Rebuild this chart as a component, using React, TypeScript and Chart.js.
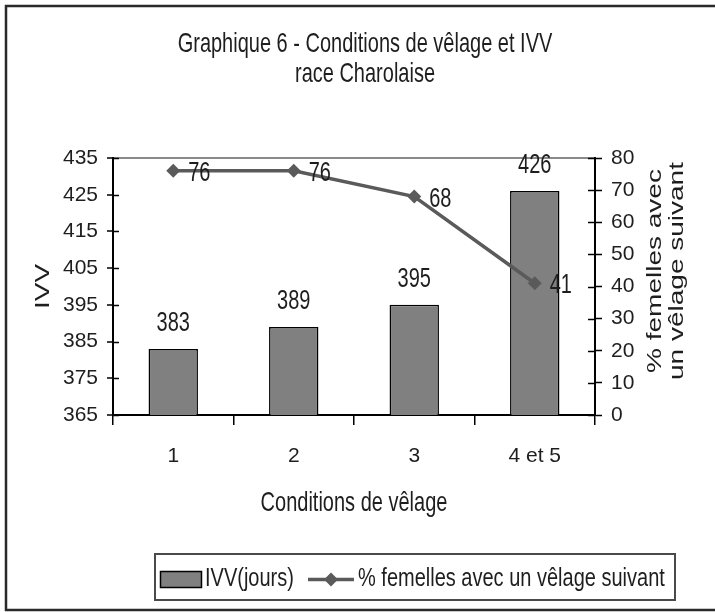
import React, { useEffect, useRef } from "react";
import { Chart, registerables } from "chart.js";

Chart.register(...registerables);

const categories = ["1", "2", "3", "4 et 5"];
const ivvValues = [383, 389, 395, 426];
const femellesValues = [76, 76, 68, 41];
const ivvLabel = "IVV(jours)";
const femellesLabel = "% femelles avec un vêlage suivant";
const titleLines = ["Graphique 6 - Conditions de vêlage et IVV", "race Charolaise"];
const xTitle = "Conditions de vêlage";
const yTitle = "IVV";
const y1TitleLines = ["% femelles avec", "un vêlage suivant"];

const FONT = '"Liberation Sans", Arial, Helvetica, sans-serif';
const TEXT = "#1e1e1e";
const BAR = "#808080";
const LINE = "#5a5a5a";
const STRETCH = 1.4;

function drawText(
  ctx: CanvasRenderingContext2D,
  text: string,
  x: number,
  y: number,
  size: number,
  align: CanvasTextAlign,
  baseline: CanvasTextBaseline,
  rotate = false,
  stretch = STRETCH
) {
  ctx.save();
  ctx.translate(x, y);
  ctx.scale(1, stretch);
  if (rotate) ctx.rotate(-Math.PI / 2);
  ctx.font = `${size}px ${FONT}`;
  ctx.fillStyle = TEXT;
  ctx.textAlign = align;
  ctx.textBaseline = baseline;
  ctx.fillText(text, 0, 0);
  ctx.restore();
}

const decorPlugin = {
  id: "decor",
  afterDraw(chart: any) {
    const ctx: CanvasRenderingContext2D = chart.ctx;
    const area = chart.chartArea;
    const y = chart.scales.y;
    const y1 = chart.scales.y1;

    // inner halves of the crossing tick marks
    ctx.save();
    ctx.strokeStyle = "#000";
    ctx.lineWidth = 1.5;
    y.ticks.forEach((_t: any, i: number) => {
      const py = Math.round(y.getPixelForTick(i)) + 0.5;
      ctx.beginPath();
      ctx.moveTo(area.left, py);
      ctx.lineTo(area.left + 6, py);
      ctx.stroke();
    });
    y1.ticks.forEach((_t: any, i: number) => {
      const py = Math.round(y1.getPixelForTick(i)) + 0.5;
      ctx.beginPath();
      ctx.moveTo(area.right - 7, py);
      ctx.lineTo(area.right, py);
      ctx.stroke();
    });
    ctx.restore();

    // data labels
    const barMeta = chart.getDatasetMeta(0);
    barMeta.data.forEach((el: any, i: number) => {
      drawText(ctx, String(chart.data.datasets[0].data[i]), el.x, el.y - 18, 20, "center", "alphabetic");
    });
    const lineMeta = chart.getDatasetMeta(1);
    lineMeta.data.forEach((el: any, i: number) => {
      drawText(ctx, String(chart.data.datasets[1].data[i]), el.x + 15, el.y + 10, 20, "left", "alphabetic");
    });

    // titles
    drawText(ctx, titleLines[0], 365, 52, 20, "center", "alphabetic");
    drawText(ctx, titleLines[1], 365, 82, 20, "center", "alphabetic");
    drawText(ctx, xTitle, (area.left + area.right) / 2, 511, 20, "center", "alphabetic");
    drawText(ctx, yTitle, 43, (area.top + area.bottom) / 2, 20, "center", "middle", true);
    drawText(ctx, y1TitleLines[0], 655, 271, 20, "center", "middle", true);
    drawText(ctx, y1TitleLines[1], 677, 271, 20, "center", "middle", true);

    // legend
    ctx.save();
    ctx.strokeStyle = "#4a4a4a";
    ctx.lineWidth = 2;
    ctx.strokeRect(155, 554, 520, 46);
    ctx.fillStyle = BAR;
    ctx.fillRect(160, 571, 42, 17);
    ctx.strokeStyle = "#000";
    ctx.lineWidth = 1.5;
    ctx.strokeRect(160.5, 571.5, 41, 16);
    ctx.strokeStyle = LINE;
    ctx.lineWidth = 3.5;
    ctx.beginPath();
    ctx.moveTo(308, 579.5);
    ctx.lineTo(354, 579.5);
    ctx.stroke();
    ctx.fillStyle = LINE;
    ctx.beginPath();
    ctx.moveTo(331, 572.5);
    ctx.lineTo(338, 579.5);
    ctx.lineTo(331, 586.5);
    ctx.lineTo(324, 579.5);
    ctx.closePath();
    ctx.fill();
    ctx.restore();
    drawText(ctx, chart.data.datasets[0].label, 205, 579, 20, "left", "middle", false, 1.3);
    drawText(ctx, chart.data.datasets[1].label, 358, 579, 20, "left", "middle", false, 1.3);

    // outer frame
    ctx.save();
    ctx.strokeStyle = "#2a2a2a";
    ctx.lineWidth = 2.5;
    ctx.strokeRect(6, 6, 740, 604);
    ctx.restore();
  },
};

export default function App() {
  const ref = useRef<HTMLCanvasElement>(null);

  useEffect(() => {
    if (!ref.current) return;
    const tickFont = { family: FONT, size: 21 };
    const chart = new Chart(ref.current, {
      type: "bar",
      data: {
        labels: categories,
        datasets: [
          {
            type: "bar",
            label: ivvLabel,
            data: ivvValues,
            backgroundColor: BAR,
            borderColor: "#000",
            borderWidth: 1.5,
            barPercentage: 0.41,
            categoryPercentage: 1,
            yAxisID: "y",
            order: 2,
          } as any,
          {
            type: "line",
            label: femellesLabel,
            data: femellesValues,
            borderColor: LINE,
            backgroundColor: LINE,
            borderWidth: 3.5,
            pointStyle: "rectRot",
            pointRadius: 7,
            pointBackgroundColor: LINE,
            pointBorderColor: LINE,
            pointBorderWidth: 0,
            tension: 0,
            yAxisID: "y1",
            order: 1,
          } as any,
        ],
      },
      options: {
        responsive: false,
        animation: false,
        devicePixelRatio: 1,
        layout: { padding: { left: 0, right: 0, top: 158, bottom: 137 } },
        plugins: {
          legend: { display: false },
          title: { display: false },
          tooltip: { enabled: false },
        },
        scales: {
          x: {
            type: "category",
            offset: true,
            grid: {
              offset: true,
              drawOnChartArea: false,
              drawTicks: true,
              tickLength: 10,
              color: "#000",
              lineWidth: 1.5,
            },
            border: { color: "#000", width: 2 },
            ticks: { font: tickFont, color: TEXT, padding: 19, maxRotation: 0, autoSkip: false },
            afterFit: (s: any) => {
              s.height = 60;
            },
          },
          y: {
            type: "linear",
            position: "left",
            min: 365,
            max: 435,
            ticks: { stepSize: 10, font: tickFont, color: TEXT, padding: 9 },
            grid: {
              color: (c: any) => (c.tick && c.tick.value === 435 ? "#8a8a8a" : "rgba(0,0,0,0)"),
              lineWidth: 2,
              drawTicks: true,
              tickLength: 6,
              tickColor: "#000",
              tickWidth: 1.5,
            },
            border: { color: "#000", width: 2 },
            afterFit: (s: any) => {
              s.width = 113;
            },
          },
          y1: {
            type: "linear",
            position: "right",
            min: 0,
            max: 80,
            ticks: { stepSize: 10, font: tickFont, color: TEXT, padding: 9 },
            grid: {
              drawOnChartArea: false,
              drawTicks: true,
              tickLength: 7,
              tickColor: "#000",
              tickWidth: 1.5,
            },
            border: { color: "#000", width: 2 },
            afterFit: (s: any) => {
              s.width = 120;
            },
          },
        },
      } as any,
      plugins: [decorPlugin],
    });
    return () => chart.destroy();
  }, []);

  return (
    <div style={{ position: "absolute", left: 0, top: 0, width: 715, height: 612, background: "#fff" }}>
      <canvas ref={ref} width={715} height={612} style={{ display: "block", width: 715, height: 612 }} />
    </div>
  );
}
